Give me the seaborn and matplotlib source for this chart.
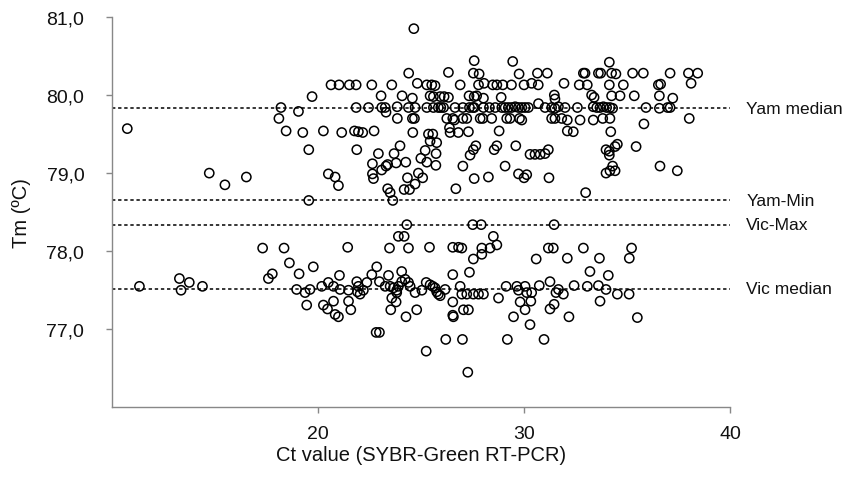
import matplotlib
matplotlib.use("Agg")
import matplotlib.pyplot as plt
import seaborn as sns
import pandas as pd
from matplotlib.ticker import FuncFormatter

# ---- data ----
yam_ct = [
    10.74, 14.72, 15.48, 16.52, 18.2, 18.1, 19.05, 19.71, 18.45, 19.26, 19.55, 19.55,
    24.65,
    27.58, 29.45,
    24.4, 26.33, 27.54, 27.82, 29.76,
    20.63, 21.02, 21.52, 21.85, 22.61, 23.58, 24.82, 25.28, 25.52, 25.68, 26.9, 27.79, 28.06, 28.48, 28.68, 28.97, 29.39, 30.0,
    23.06, 24.08, 24.58, 25.44, 25.6, 25.93, 26.12, 26.33, 27.33, 27.58, 27.7, 28.03, 28.89,
    21.85, 22.45, 23.09, 23.26, 23.3, 23.84, 24.39, 24.71, 25.28, 25.6, 25.84, 25.96, 26.09, 26.65, 27.03, 27.35, 27.51, 27.58,
    28.03, 28.32, 28.6, 28.92, 29.08, 29.24, 29.4, 29.57, 29.73, 29.89, 30.05, 30.21,
    23.85, 24.58, 24.68, 26.25, 26.54, 26.62, 27.03, 27.22, 27.87, 28.0, 28.43, 29.16, 29.32, 29.78, 29.89,
    20.26, 21.15, 21.77, 21.96, 22.17, 22.72, 24.6, 25.36, 25.57, 26.38, 26.41, 26.81, 27.3, 28.79,
    25.44, 25.76, 23.98, 21.88, 22.93, 23.69, 25.2, 25.73, 27.66, 27.54, 27.38, 28.68, 28.55, 29.6,
    22.64, 23.09, 23.3, 23.38, 23.79, 24.26, 24.99, 25.28, 25.72, 27.03, 29.08,
    20.5, 20.83, 20.99, 22.64, 22.69, 24.34, 24.87, 25.08, 24.71, 27.58, 28.27, 29.73, 30.13, 30.0,
    23.38, 23.5, 23.63, 24.18, 24.44, 26.69,
    34.14,
    30.65, 31.13, 32.88, 32.96, 33.61, 33.72, 34.25, 34.46, 35.27, 35.79, 37.09, 37.98, 38.43,
    30.37, 30.69, 31.94, 32.68, 33.07, 34.14, 34.82, 36.52, 36.63, 38.11,
    31.47, 31.5, 33.28, 33.4, 34.25, 34.66, 35.35, 36.57, 37.22,
    30.7, 31.02, 31.34, 31.5, 31.67, 31.99, 32.59, 33.36, 33.53, 33.69, 33.85, 34.01, 34.17, 34.3, 35.92, 36.57, 36.97, 37.09,
    31.34, 31.5, 31.83, 32.1, 32.72, 33.36, 33.82, 34.17, 35.82, 38.02,
    32.1, 32.39, 34.21,
    31.18, 31.02, 30.78, 30.53, 30.29, 35.44, 34.53, 34.42, 33.98, 34.14, 34.14,
    31.21, 34.3, 34.42, 34.17, 33.98, 36.6, 37.44,
    32.99,
]
yam_tm = [
    79.57, 79.00, 78.85, 78.95, 79.84, 79.70, 79.79, 79.98, 79.54, 79.52, 79.30, 78.65,
    80.85,
    80.44, 80.43,
    80.28, 80.29, 80.28, 80.27, 80.27,
    80.13, 80.13, 80.13, 80.13, 80.13, 80.13, 80.15, 80.13, 80.13, 80.12, 80.13, 80.13, 80.15, 80.13, 80.13, 80.13, 80.13, 80.13,
    79.99, 79.99, 79.96, 79.99, 79.98, 79.98, 79.98, 79.97, 79.99, 79.98, 79.99, 79.96, 79.97,
    79.84, 79.84, 79.84, 79.84, 79.78, 79.85, 79.84, 79.84, 79.84, 79.84, 79.84, 79.84, 79.84, 79.84, 79.84, 79.84, 79.84, 79.84,
    79.84, 79.84, 79.84, 79.84, 79.84, 79.84, 79.84, 79.85, 79.84, 79.84, 79.84, 79.84,
    79.70, 79.70, 79.70, 79.70, 79.70, 79.68, 79.70, 79.70, 79.70, 79.70, 79.70, 79.70, 79.70, 79.70, 79.68,
    79.54, 79.52, 79.54, 79.53, 79.52, 79.54, 79.52, 79.50, 79.50, 79.58, 79.52, 79.52, 79.53, 79.54,
    79.41, 79.39, 79.35, 79.30, 79.25, 79.25, 79.29, 79.25, 79.35, 79.30, 79.23, 79.35, 79.30, 79.35,
    79.12, 79.04, 79.09, 79.11, 79.13, 79.14, 79.19, 79.14, 79.10, 79.09, 79.09,
    78.99, 78.95, 78.84, 78.99, 78.93, 78.94, 79.00, 78.94, 78.86, 78.93, 78.95, 78.99, 78.98, 78.94,
    78.80, 78.75, 78.65, 78.79, 78.79, 78.80,
    80.42,
    80.28, 80.28, 80.28, 80.28, 80.28, 80.28, 80.28, 80.27, 80.28, 80.28, 80.28, 80.28, 80.28,
    80.15, 80.13, 80.15, 80.13, 80.13, 80.13, 80.13, 80.13, 80.14, 80.15,
    80.00, 79.95, 80.00, 79.97, 79.99, 79.99, 79.99, 79.99, 79.96,
    79.89, 79.84, 79.84, 79.83, 79.85, 79.84, 79.84, 79.85, 79.84, 79.84, 79.85, 79.84, 79.84, 79.83, 79.84, 79.83, 79.84, 79.84,
    79.70, 79.70, 79.70, 79.68, 79.68, 79.68, 79.70, 79.70, 79.63, 79.70,
    79.54, 79.53, 79.53,
    79.30, 79.25, 79.24, 79.24, 79.24, 79.34, 79.37, 79.34, 79.30, 79.28, 79.23,
    78.94, 79.09, 79.03, 79.03, 79.00, 79.09, 79.03,
    78.75,
]

vic_ct = [
    11.33, 13.27, 13.35, 13.75, 14.39, 17.31, 18.35, 18.61, 19.77, 19.08, 17.59, 17.78, 18.96, 19.37, 19.61, 19.45,
    24.31, 27.51, 27.92,
    23.9, 24.18, 28.51,
    28.68,
    27.95, 28.35, 27.95,
    21.44, 23.47, 24.39, 25.41, 26.54, 26.82, 26.98,
    27.54, 30.59,
    22.85,
    21.04, 22.61, 23.42, 24.06, 26.54, 27.35,
    20.18, 20.5, 20.75, 21.07, 21.48, 21.88, 21.96, 21.91, 22.04, 22.2, 22.37, 22.98,
    23.26, 23.5, 23.66, 23.82, 23.9, 24.06, 24.23, 24.39, 24.47, 24.71,
    25.04, 25.25, 25.44, 25.57, 25.68, 25.76, 25.84, 25.93, 26.17,
    26.9, 26.98, 27.22, 27.54, 27.79, 28.03,
    28.76, 29.13, 29.65, 29.73, 30.05, 30.13, 30.37,
    23.58, 23.82, 23.79, 21.48,
    20.26, 20.46, 20.75, 20.83, 20.99,
    21.59, 23.53, 24.27, 24.79, 26.54, 27.06, 27.3, 26.54, 26.57,
    29.81, 30.05, 30.33, 29.49, 30.29,
    22.82, 22.98, 26.2, 27.01, 25.25, 27.27, 29.19,
    31.46, 31.18, 31.42, 32.88, 35.22, 35.11, 32.1, 33.66,
    33.2, 34.09,
    30.74, 31.26, 31.67, 31.55, 31.91, 32.43, 33.07, 33.61, 33.98, 34.53, 35.1,
    31.46, 31.26, 33.69, 32.18, 35.5, 30.97,
]
vic_tm = [
    77.55, 77.65, 77.50, 77.60, 77.55, 78.04, 78.04, 77.85, 77.80, 77.71, 77.65, 77.71, 77.51, 77.47, 77.51, 77.31,
    78.34, 78.34, 78.34,
    78.19, 78.19, 78.19,
    78.08,
    78.04, 78.04, 77.96,
    78.05, 78.04, 78.04, 78.05, 78.05, 78.05, 78.04,
    77.90, 77.90,
    77.80,
    77.69, 77.70, 77.69, 77.74, 77.70, 77.73,
    77.55, 77.60, 77.55, 77.51, 77.50, 77.61, 77.55, 77.48, 77.45, 77.50, 77.60, 77.61,
    77.55, 77.55, 77.53, 77.50, 77.55, 77.61, 77.64, 77.60, 77.55, 77.47,
    77.50, 77.60, 77.57, 77.55, 77.53, 77.48, 77.45, 77.43, 77.51,
    77.55, 77.45, 77.45, 77.45, 77.45, 77.45,
    77.40, 77.55, 77.55, 77.50, 77.55, 77.47, 77.47,
    77.40, 77.47, 77.35, 77.36,
    77.31, 77.26, 77.36, 77.19, 77.16,
    77.25, 77.25, 77.16, 77.25, 77.35, 77.25, 77.25, 77.18, 77.16,
    77.35, 77.25, 77.36, 77.16, 77.06,
    76.96, 76.96, 76.87, 76.87, 76.72, 76.45, 76.87,
    78.34, 78.04, 78.04, 78.04, 78.04, 77.91, 77.91, 77.91,
    77.74, 77.69,
    77.56, 77.61, 77.51, 77.47, 77.45, 77.56, 77.55, 77.56, 77.51, 77.45, 77.45,
    77.32, 77.26, 77.36, 77.16, 77.15, 76.87,
]

ref_names = ["Yam median", "Yam-Min", "Vic-Max", "Vic median"]
ref_values = [79.83, 78.65, 78.34, 77.52]

x_ticks = [20, 30, 40]
y_ticks = [77, 78, 79, 80, 81]
x_label = "Ct value (SYBR-Green RT-PCR)"
y_label = "Tm (ºC)"

# ---- plot ----
sns.set_style("ticks")
plt.rcParams["font.family"] = ["Liberation Sans", "DejaVu Sans"]

df = pd.DataFrame({"ct": yam_ct + vic_ct, "tm": yam_tm + vic_tm})

fig = plt.figure(figsize=(8.43, 4.85), dpi=100)
ax = fig.add_axes([0.1329, 0.158, 0.7331, 0.805])

sns.scatterplot(data=df, x="ct", y="tm", ax=ax, marker="o", s=44,
                fc="none", ec="black", linewidth=1.1, zorder=3)

for name, val in zip(ref_names, ref_values):
    ax.axhline(val, color="black", lw=1.1, ls=(0, (2.2, 1.8)), zorder=2)
    ax.text(1.026, val, name, transform=ax.get_yaxis_transform(),
            va="center", ha="left", fontsize=12.5, color="#111111")

ax.set_xlim(10, 40)
ax.set_ylim(76, 81)
ax.set_xticks(x_ticks)
ax.set_yticks(y_ticks)
ax.yaxis.set_major_formatter(FuncFormatter(lambda v, p: f"{v:.1f}".replace(".", ",")))

for side in ["top", "right"]:
    ax.spines[side].set_visible(False)
for side in ["left", "bottom"]:
    ax.spines[side].set_color("#888888")
    ax.spines[side].set_linewidth(1.0)

ax.tick_params(axis="both", direction="out", length=4, width=1.0, color="#888888",
               labelsize=14, labelcolor="#111111")
ax.tick_params(axis="y", pad=16)
ax.tick_params(axis="x", pad=8.5)

ax.set_xlabel(x_label, fontsize=14.5, color="#111111", labelpad=2)
ax.set_ylabel(y_label, fontsize=14.5, color="#111111", labelpad=11)

fig.savefig("out.png", dpi=100)
